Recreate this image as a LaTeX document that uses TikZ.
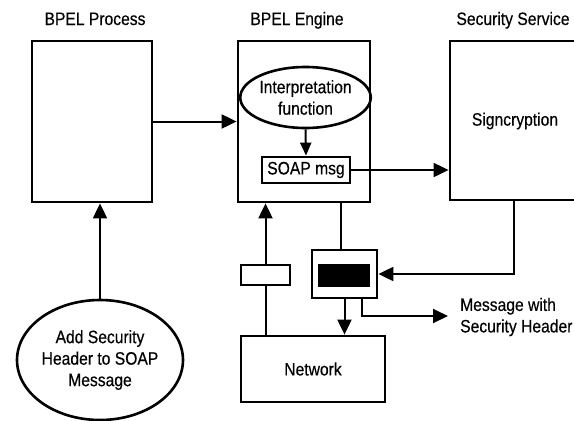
\documentclass[tikz,border=0pt]{standalone}
\usepackage{fontspec}
\setmainfont{Liberation Sans}[FakeStretch=0.87,FakeBold=0.4]
\usetikzlibrary{arrows.meta,shapes.geometric}
\begin{document}
\begin{tikzpicture}[x=1pt,y=-1pt,
  font=\fontsize{18}{21.5}\selectfont,
  box/.style={draw,line width=2.8pt,inner sep=0pt},
  oval/.style={draw,ellipse,line width=2.6pt,inner sep=0pt,align=center},
  lbl/.style={anchor=base,inner sep=0pt},
  conn/.style={line width=2pt},
  arr/.style={conn,-{Triangle[length=15pt,width=14pt]}},
  sarr/.style={conn,-{Triangle[length=13pt,width=11pt]}}]
\useasboundingbox (0,0) rectangle (574,421);
% titles
\node[lbl] (tproc) at (95,25) {BPEL Process};
\node[lbl] (teng) at (297,25) {BPEL Engine};
\node[lbl] (tsec) at (513,25) {Security Service};
% boxes
\node[box,minimum width=120pt,minimum height=161pt] (proc) at (92,121.5) {};
\node[box,minimum width=132pt,minimum height=161pt] (eng) at (304,121.5) {};
\node[box,minimum width=136pt,minimum height=159pt] (sec) at (518,120.5) {};
\node (sign) at (515,121) {Signcryption};
\node[oval,minimum width=115pt,minimum height=61pt] (interp) at (305.5,97.5) {Interpretation\\function};
\node[box,minimum width=88pt,minimum height=26pt] (soap) at (306,170) {SOAP msg};
\node[box,minimum width=49pt,minimum height=20pt] (sb) at (265.5,275) {};
\node[box,minimum width=65pt,minimum height=48pt] (dev) at (344.5,274) {};
\node[draw,fill=black,inner sep=0pt,minimum width=51pt,minimum height=22pt] (blk) at (343.5,275) {};
\node[box,minimum width=144pt,minimum height=66pt] (net) at (313,369) {Network};
\node[oval,minimum width=166pt,minimum height=120pt] (add) at (100,360) {Add Security\\Header to SOAP\\Message};
\node[anchor=west,align=left,inner sep=0pt] (msg) at (460,317) {Message with\\Security Header};
\coordinate (msgtip) at (448,316);
% connectors
\draw[arr] (proc.east) -- (eng.west);
\draw[arr] (add.north) -- (add.north |- proc.south);
\draw[sarr] (interp.south) -- (soap.north);
\draw[arr] (soap.east) -- (soap.east -| sec.west);
\draw[conn] (net.north -| sb) -- (sb.south);
\draw[arr] (sb.north) -- (sb.north |- eng.south);
\draw[conn] ([xshift=-3.5pt]dev.north) -- ([xshift=-3.5pt]dev.north |- eng.south);
\draw[arr] ([xshift=-4pt]sec.south) |- (dev.east);
\draw[arr] (dev.south) -- (dev.south |- net.north);
\draw[arr] ([xshift=17.5pt]dev.south) |- (msgtip);
\end{tikzpicture}
\end{document}
